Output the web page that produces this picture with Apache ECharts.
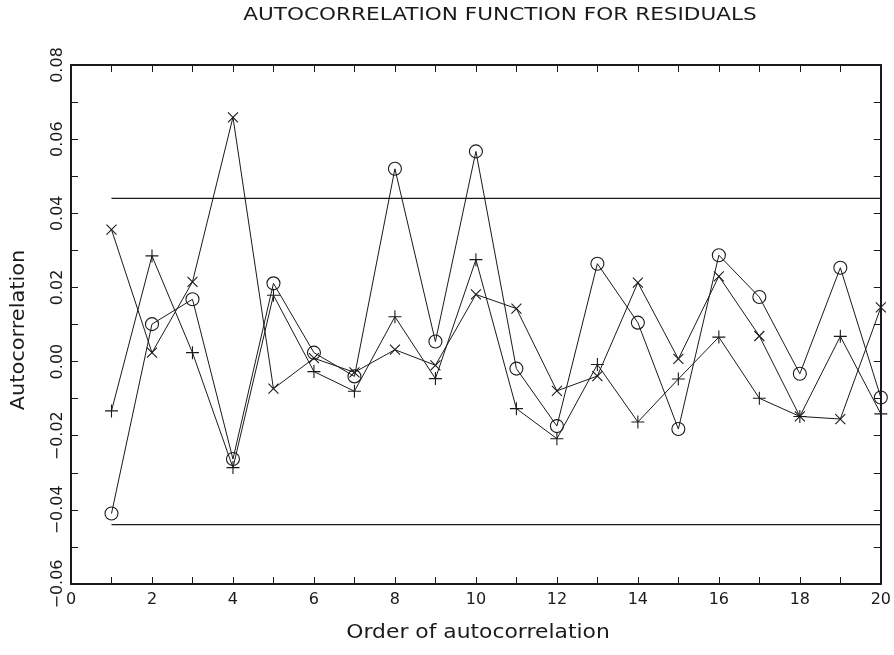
<!DOCTYPE html>
<html>
<head>
<meta charset="utf-8">
<script src="https://cdn.jsdelivr.net/npm/echarts@6/dist/echarts.min.js"></script>
<style>
html,body{margin:0;padding:0;background:#fff;}
#chart{width:894px;height:655px;}
</style>
</head>
<body>
<div id="chart"></div>
<script>
// Order of autocorrelation (lags)
var lags = [1,2,3,4,5,6,7,8,9,10,11,12,13,14,15,16,17,18,19,20];
// Series drawn with circles
var circleSeries = [-0.0410,0.0101,0.0168,-0.0263,0.0211,0.0024,-0.0040,0.0520,0.0054,0.0567,
                    -0.0019,-0.0174,0.0264,0.0105,-0.0182,0.0287,0.0174,-0.0033,0.0253,-0.0097];
// Series drawn with plus signs
var plusSeries = [-0.0133,0.0285,0.0024,-0.0286,0.0179,-0.0027,-0.0080,0.0121,-0.0046,0.0275,
                  -0.0127,-0.0208,-0.0008,-0.0163,-0.0047,0.0066,-0.0099,-0.0148,0.0068,-0.0141];
// Series drawn with crosses
var crossSeries = [0.0356,0.0024,0.0215,0.0659,-0.0073,0.0009,-0.0029,0.0032,-0.0010,0.0181,
                   0.0143,-0.0079,-0.0039,0.0213,0.0007,0.0230,0.0069,-0.0148,-0.0155,0.0146];
// Confidence bounds
var boundLags = [1,20];
var upperBound = [0.044,0.044];
var lowerBound = [-0.044,-0.044];
// Axis settings
var xMin = 0, xMax = 20, xStep = 1;
var yMin = -0.06, yMax = 0.08, yStep = 0.01;

function pairs(xs, ys){ return xs.map(function(x,i){ return [x, ys[i]]; }); }

var ink = '#1a1a1a';
var fontFam = '"DejaVu Sans", sans-serif';

var chart = echarts.init(document.getElementById('chart'), null, {renderer:'canvas'});

function yFmt(v){
  var k = Math.round(v*100);
  if (k % 2 !== 0) return '';
  var s = Math.abs(v).toFixed(2);
  return (k < 0 ? '\u2212' : '') + s;
}
function xFmt(v){
  return (Math.round(v) % 2 === 0) ? String(Math.round(v)) : '';
}

var markerBase = {
  type:'line',
  showSymbol:true,
  lineStyle:{color:ink,width:1},
  itemStyle:{color:'rgba(0,0,0,0)',borderColor:ink,borderWidth:1.1},
  emphasis:{disabled:true},
  animation:false,
  z:3
};

var option = {
  backgroundColor:'#fff',
  animation:false,
  grid:{left:71,right:13,top:65,bottom:71,containLabel:false},
  xAxis:[{
    type:'value',min:xMin,max:xMax,interval:xStep,
    axisLine:{show:true,onZero:false,lineStyle:{color:ink,width:2}},
    axisTick:{show:true,inside:true,length:7,lineStyle:{color:ink,width:1}},
    axisLabel:{formatter:xFmt,color:ink,fontFamily:fontFam,fontSize:16,margin:8},
    splitLine:{show:false}
  },{
    type:'value',min:xMin,max:xMax,interval:xStep,position:'top',
    axisLine:{show:true,onZero:false,lineStyle:{color:ink,width:2}},
    axisTick:{show:true,inside:true,length:7,lineStyle:{color:ink,width:1}},
    axisLabel:{show:false},splitLine:{show:false}
  }],
  yAxis:[{
    type:'value',min:yMin,max:yMax,interval:yStep,
    axisLine:{show:true,onZero:false,lineStyle:{color:ink,width:2}},
    axisTick:{show:true,inside:true,length:7,lineStyle:{color:ink,width:1}},
    axisLabel:{formatter:yFmt,rotate:90,color:ink,fontFamily:fontFam,fontSize:16,margin:5},
    splitLine:{show:false}
  },{
    type:'value',min:yMin,max:yMax,interval:yStep,position:'right',
    axisLine:{show:true,onZero:false,lineStyle:{color:ink,width:2}},
    axisTick:{show:true,inside:true,length:7,lineStyle:{color:ink,width:1}},
    axisLabel:{show:false},splitLine:{show:false}
  }],
  graphic:[
    {type:'text',x:500,y:16,scaleX:1.27,originX:0,
     style:{text:'AUTOCORRELATION FUNCTION FOR RESIDUALS',font:'17px '+fontFam,fill:ink,align:'center',verticalAlign:'middle'}},
    {type:'text',x:478,y:633,scaleX:1.15,
     style:{text:'Order of autocorrelation',font:'19px '+fontFam,fill:ink,align:'center',verticalAlign:'middle'}},
    {type:'text',x:19,y:330,rotation:Math.PI/2,scaleX:1.1,
     style:{text:'Autocorrelation',font:'19px '+fontFam,fill:ink,align:'center',verticalAlign:'middle'}}
  ],
  series:[
    Object.assign({}, markerBase, {name:'circles',data:pairs(lags,circleSeries),symbol:'circle',symbolSize:13}),
    Object.assign({}, markerBase, {name:'plus',data:pairs(lags,plusSeries),symbol:'path://M5,0L5,10M0,5L10,5',symbolSize:13}),
    Object.assign({}, markerBase, {name:'cross',data:pairs(lags,crossSeries),symbol:'path://M0,0L10,10M0,10L10,0',symbolSize:10}),
    {type:'line',data:pairs(boundLags,upperBound),showSymbol:false,symbol:'none',lineStyle:{color:ink,width:1.3},animation:false,z:2},
    {type:'line',data:pairs(boundLags,lowerBound),showSymbol:false,symbol:'none',lineStyle:{color:ink,width:1.3},animation:false,z:2}
  ]
};
chart.setOption(option);
</script>
</body>
</html>
